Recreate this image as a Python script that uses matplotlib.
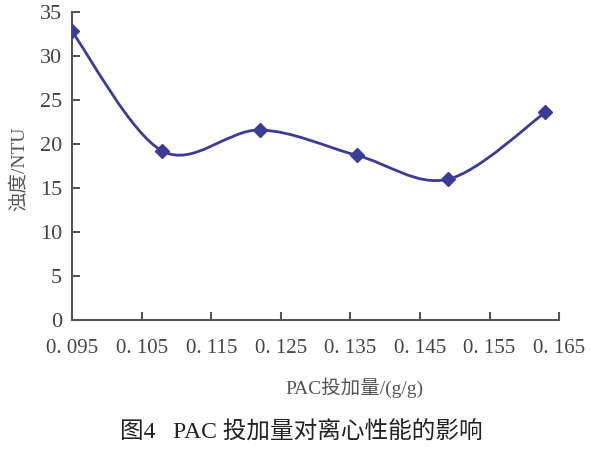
import matplotlib
matplotlib.use('Agg')
import matplotlib.pyplot as plt
from matplotlib.path import Path
from matplotlib.patches import PathPatch

plt.rcParams['font.family'] = ['Liberation Serif', 'Noto Sans CJK SC']

# 数据
pac = [0.095, 0.108, 0.122, 0.136, 0.149, 0.163]
turbidity = [32.8, 19.2, 21.6, 18.7, 16.0, 23.6]

x_ticks = [0.095, 0.105, 0.115, 0.125, 0.135, 0.145, 0.155, 0.165]
x_tick_labels = ['0. 095', '0. 105', '0. 115', '0. 125', '0. 135', '0. 145', '0. 155', '0. 165']
y_ticks = [0, 5, 10, 15, 20, 25, 30, 35]

line_color = '#3b3b98'
axis_color = '#555555'

fig = plt.figure(figsize=(6, 4.5), dpi=100)
ax = fig.add_axes([0.12, 0.289, 0.812, 0.684])

# 平滑曲线 (Excel 风格的 Bezier 平滑)
pts = list(zip(pac, turbidity))
n = len(pts)
verts = [pts[0]]
codes = [Path.MOVETO]
for i in range(n - 1):
    p0 = pts[i - 1] if i > 0 else pts[i]
    p1 = pts[i]
    p2 = pts[i + 1]
    p3 = pts[i + 2] if i + 2 < n else pts[i + 1]
    c1 = (p1[0] + (p2[0] - p0[0]) / 6, p1[1] + (p2[1] - p0[1]) / 6)
    c2 = (p2[0] - (p3[0] - p1[0]) / 6, p2[1] - (p3[1] - p1[1]) / 6)
    verts += [c1, c2, p2]
    codes += [Path.CURVE4] * 3
ax.add_patch(PathPatch(Path(verts, codes), facecolor='none', edgecolor=line_color, lw=2))
ax.plot(pac, turbidity, 'D', color=line_color, ms=7, zorder=3)

ax.set_xlim(0.095, 0.165)
ax.set_ylim(0, 35)
ax.set_xticks(x_ticks)
ax.set_xticklabels(x_tick_labels)
ax.set_yticks(y_ticks)

for s in ['top', 'right']:
    ax.spines[s].set_visible(False)
for s in ['left', 'bottom']:
    ax.spines[s].set_color(axis_color)
    ax.spines[s].set_linewidth(1.5)
ax.tick_params(direction='in', length=6, width=1.5, color=axis_color,
               labelcolor='#444444')
ax.tick_params(axis='x', pad=14, labelsize=15)
ax.tick_params(axis='y', pad=7, labelsize=16)

ax.set_xlabel('PAC投加量/(g/g)', fontsize=14, color='#555555')
ax.xaxis.set_label_coords(0.58, -0.185)
ax.set_ylabel('浊度/NTU', fontsize=14, color='#555555')
ax.yaxis.set_label_coords(-0.09, 0.49)

fig.text(0.503, 0.042, '图4   PAC 投加量对离心性能的影响', fontsize=17,
         ha='center', va='center', color='#222222')

fig.savefig('out.png', dpi=100)
